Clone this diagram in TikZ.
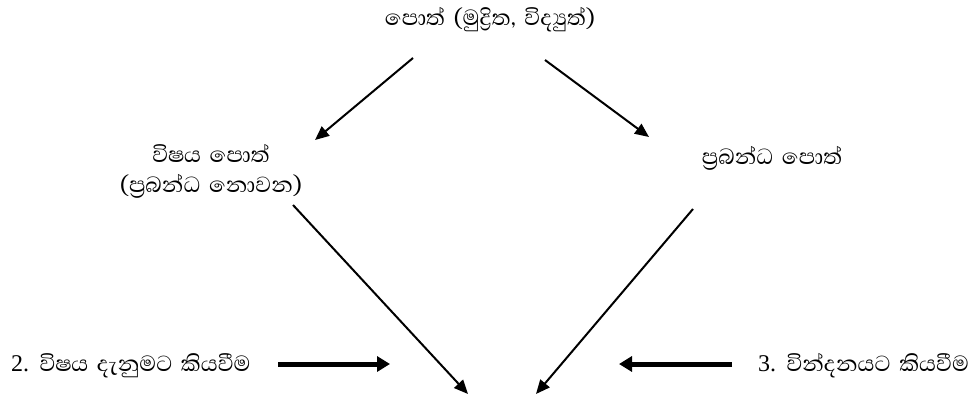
\documentclass[tikz,border=0pt]{standalone}
\usepackage{fontspec}
\newfontfamily\sinhalafont[Script=Sinhala,WordSpace=1.6]{Abhaya Libre}
\newfontfamily\numfont{Liberation Serif}
\usetikzlibrary{arrows.meta}

\begin{document}
\begin{tikzpicture}[x=1pt,y=-1pt,font=\sinhalafont\fontsize{28}{30}\selectfont,
  lbl/.style={inner sep=1pt,align=center},
  thin/.style={line width=2pt,-{Triangle[length=14pt,width=12pt]}},
  thick/.style={line width=5pt,-{Triangle[length=13pt,width=15pt]}}]
\useasboundingbox (0,0) rectangle (973,404);
\node[lbl] (book) at (490,20) {පොත් (මුද්‍රිත, විද්‍යුත්)};
\node[lbl] (nonfic) at (211,171) {විෂය පොත්\\(ප්‍රබන්ධ නොවන)};
\node[lbl] (fic) at (772,158) {ප්‍රබන්ධ පොත්};
\node[lbl,anchor=west] (know) at (10,366) {{\numfont\fontsize{24}{28}\selectfont 2.} විෂය දැනුමට කියවීම};
\node[lbl,anchor=west] (enjoy) at (757,366) {{\numfont\fontsize{24}{28}\selectfont 3.} වින්දනයට කියවීම};
% arrow ends
\coordinate (b1) at (413,58);
\coordinate (b2) at (545,60);
\coordinate (n1) at (315,140);
\coordinate (f1) at (649,137);
\coordinate (n2) at (293,205);
\coordinate (f2) at (693,209);
\coordinate (g1) at (468,394);
\coordinate (g2) at (536,394);
\coordinate (k1) at (278,364);
\coordinate (k2) at (390,364);
\coordinate (e1) at (732,364);
\coordinate (e2) at (619,364);
\foreach \a/\b in {b1/n1,b2/f1,n2/g1,f2/g2} \draw[thin] (\a) -- (\b);
\foreach \a/\b in {k1/k2,e1/e2} \draw[thick] (\a) -- (\b);
\end{tikzpicture}
\end{document}
